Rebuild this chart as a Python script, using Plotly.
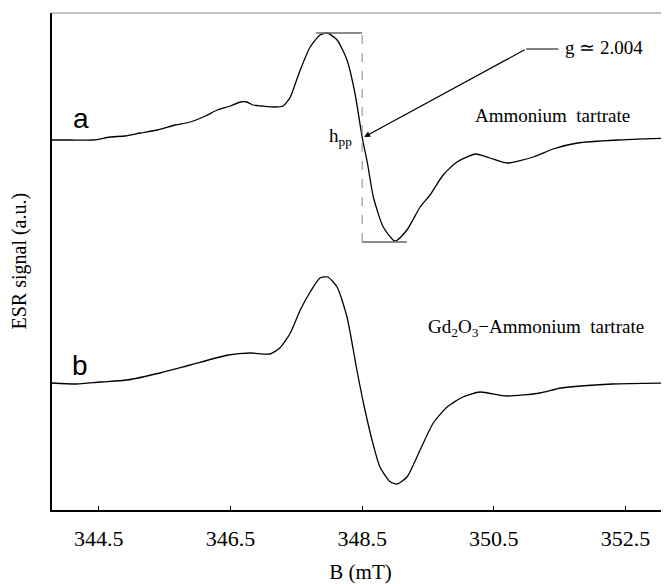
import plotly.graph_objects as go

# ---- data (B in mT, signal in arbitrary units) ----
B_a = [343.79, 344.07, 344.42, 344.67, 344.90, 345.13, 345.39, 345.66, 345.89, 346.12,
       346.30, 346.50, 346.65, 346.75, 346.84, 346.98, 347.18, 347.30, 347.38, 347.41,
       347.56, 347.71, 347.86, 347.97, 348.12, 348.27, 348.39, 348.50, 348.58, 348.67,
       348.82, 349.00, 349.18, 349.38, 349.53, 349.73, 349.94, 350.22, 350.44, 350.70,
       351.10, 351.40, 351.77, 352.37, 353.16]
sig_a = [3.70, 3.70, 3.70, 3.73, 3.74, 3.77, 3.80, 3.85, 3.88, 3.94,
         4.00, 4.04, 4.08, 4.08, 4.05, 4.04, 4.03, 4.04, 4.10, 4.13,
         4.40, 4.63, 4.75, 4.77, 4.70, 4.50, 4.17, 3.73, 3.47, 3.13,
         2.83, 2.69, 2.80, 3.03, 3.15, 3.35, 3.48, 3.56, 3.52, 3.47,
         3.53, 3.61, 3.67, 3.70, 3.72]

B_b = [343.79, 344.16, 344.52, 344.93, 345.43, 345.89, 346.47, 346.80, 347.10, 347.25,
       347.41, 347.56, 347.71, 347.86, 347.98, 348.12, 348.27, 348.42, 348.52, 348.65,
       348.77, 348.93, 349.03, 349.18, 349.38, 349.58, 349.79, 350.03, 350.29, 350.69,
       351.20, 351.52, 352.30, 353.16]
sig_b = [1.27, 1.26, 1.28, 1.30, 1.37, 1.45, 1.55, 1.57, 1.56, 1.62,
         1.77, 2.00, 2.18, 2.32, 2.33, 2.23, 1.93, 1.40, 1.07, 0.70,
         0.43, 0.28, 0.26, 0.33, 0.60, 0.87, 1.03, 1.13, 1.18, 1.14,
         1.17, 1.22, 1.26, 1.27]

tick_vals = [344.5, 346.5, 348.5, 350.5, 352.5]
tick_text = ["344.5", "346.5", "348.5", "350.5", "352.5"]

# h_pp construction
hpp_B = 348.5
hpp_top = 4.77
hpp_bot = 2.68
hpp_top_left = 347.80
hpp_bot_right = 349.18

SERIF = "Liberation Serif, Times New Roman, serif"
SANS = "Liberation Sans, Arial, sans-serif"

fig = go.Figure()
fig.add_trace(go.Scatter(x=B_a, y=sig_a, mode="lines",
                         line=dict(color="black", width=1.3, shape="spline", smoothing=0.6),
                         showlegend=False, hoverinfo="skip"))
fig.add_trace(go.Scatter(x=B_b, y=sig_b, mode="lines",
                         line=dict(color="black", width=1.3, shape="spline", smoothing=0.6),
                         showlegend=False, hoverinfo="skip"))

# peak-to-peak markers
fig.add_shape(type="line", x0=hpp_top_left, x1=hpp_B, y0=hpp_top, y1=hpp_top,
              line=dict(color="#666666", width=1.3))
fig.add_shape(type="line", x0=hpp_B, x1=hpp_bot_right, y0=hpp_bot, y1=hpp_bot,
              line=dict(color="#666666", width=1.3))
fig.add_shape(type="line", x0=hpp_B, x1=hpp_B, y0=hpp_bot, y1=hpp_top,
              line=dict(color="#888888", width=1, dash="dash"))

# g-value leader line
fig.add_shape(type="line", x0=350.99, x1=351.48, y0=4.61, y1=4.61,
              line=dict(color="black", width=1.2))
fig.add_annotation(x=348.53, y=3.73, ax=350.99, ay=4.61, axref="x", ayref="y",
                   xref="x", yref="y", text="", showarrow=True,
                   arrowhead=2, arrowsize=1, arrowwidth=1.2, arrowcolor="black")

# top border (gray)
fig.add_shape(type="line", xref="paper", yref="paper", x0=0, x1=1, y0=1, y1=1,
              line=dict(color="#888888", width=1.2))

fig.add_annotation(x=351.55, y=4.63, text="g \u2243 2.004", showarrow=False,
                   xanchor="left", yanchor="middle", font=dict(family=SERIF, size=19, color="black"))
fig.add_annotation(x=348.37, y=3.73, text="h<sub>pp</sub>", showarrow=False,
                   xanchor="right", yanchor="middle", font=dict(family=SERIF, size=19, color="black"))
fig.add_annotation(x=351.39, y=3.95, text="Ammonium  tartrate", showarrow=False,
                   xanchor="center", yanchor="middle", font=dict(family=SERIF, size=19, color="black"))
fig.add_annotation(x=351.14, y=1.82, text="Gd<sub>2</sub>O<sub>3</sub>\u2212Ammonium  tartrate",
                   showarrow=False, xanchor="center", yanchor="middle",
                   font=dict(family=SERIF, size=19, color="black"))
fig.add_annotation(x=344.23, y=3.92, text="a", showarrow=False,
                   xanchor="center", yanchor="middle", font=dict(family=SANS, size=28, color="black"))
fig.add_annotation(x=344.22, y=1.45, text="b", showarrow=False,
                   xanchor="center", yanchor="middle", font=dict(family=SANS, size=28, color="black"))

# y-axis title
fig.add_annotation(xref="paper", yref="paper", x=0, y=0.5, xshift=-33, text="ESR signal (a.u.)",
                   textangle=-90, showarrow=False, xanchor="center", yanchor="middle",
                   font=dict(family=SERIF, size=20, color="black"))

# page body has an 8px default margin; size the figure so it fits the 669x584 window
fig.update_layout(
    width=661, height=576,
    margin=dict(l=44, r=0, t=5, b=74),
    paper_bgcolor="white", plot_bgcolor="white",
    xaxis=dict(range=[343.79, 353.16], tickvals=tick_vals, ticktext=tick_text,
               ticks="inside", ticklen=4, tickwidth=1, tickcolor="black",
               showline=True, linecolor="black", linewidth=1.5, showgrid=False, zeroline=False,
               tickfont=dict(family=SERIF, size=22, color="black"), ticklabelstandoff=8,
               title=dict(text="B (mT)", font=dict(family=SERIF, size=21, color="black"), standoff=14)),
    yaxis=dict(range=[0, 4.97], showticklabels=False, ticks="", showline=True,
               linecolor="black", linewidth=1.5, showgrid=False, zeroline=False),
)

fig.write_html("out.html")
